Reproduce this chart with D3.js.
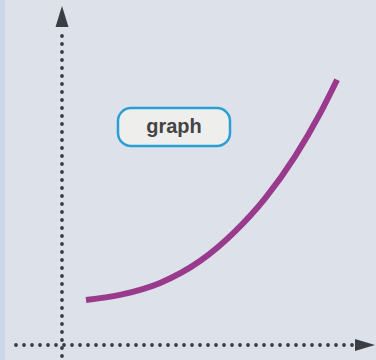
<!DOCTYPE html>
<html>
<head>
<meta charset="utf-8">
<script src="https://cdn.jsdelivr.net/npm/d3@7"></script>
<style>
  body { margin: 0; background: #dde1e9; }
  svg { display: block; }
</style>
</head>
<body>
<div id="chart"></div>
<script>
// curve (abstract units, 0..10 on both axes)
let xValues = [0.8, 1.93, 3.27, 4.6, 5.77, 6.77, 7.77, 8.6, 9.17]
let yValues = [1.5, 1.67, 2.07, 2.8, 3.79, 4.89, 6.29, 7.71, 8.84]
let labelText = 'graph'

let width = 376
let height = 360

let svg = d3
  .select('#chart')
  .append('svg')
  .attr('width', width)
  .attr('height', height)

svg.append('rect')
  .attr('width', width)
  .attr('height', height)
  .attr('fill', '#dde1e9')

// faint blue strip on the left edge
svg.append('rect')
  .attr('width', 5)
  .attr('height', height)
  .attr('fill', '#cbd6e8')

let xScale = d3.scaleLinear().domain([0, 10]).range([62, 362])
let yScale = d3.scaleLinear().domain([0, 10]).range([345, 45])

let axisColor = '#3a3d44'

// dotted y axis
svg.append('line')
  .attr('x1', xScale(0))
  .attr('x2', xScale(0))
  .attr('y1', height + 4)
  .attr('y2', 29)
  .attr('stroke', axisColor)
  .attr('stroke-width', 3.8)
  .attr('stroke-linecap', 'round')
  .attr('stroke-dasharray', '0 8')

svg.append('path')
  .attr('d', `M${xScale(0)},6 L${xScale(0) + 6.5},27 L${xScale(0) - 6.5},27 Z`)
  .attr('fill', axisColor)

// dotted x axis
svg.append('line')
  .attr('x1', 16)
  .attr('x2', 356)
  .attr('y1', yScale(0))
  .attr('y2', yScale(0))
  .attr('stroke', axisColor)
  .attr('stroke-width', 3.8)
  .attr('stroke-linecap', 'round')
  .attr('stroke-dasharray', '0 8')

svg.append('path')
  .attr('d', `M375,${yScale(0)} L355,${yScale(0) - 6} L355,${yScale(0) + 6} Z`)
  .attr('fill', axisColor)

let points = xValues.map((x, i) => [x, yValues[i]])

let line = d3.line()
  .x(d => xScale(d[0]))
  .y(d => yScale(d[1]))
  .curve(d3.curveMonotoneX)

svg.append('path')
  .datum(points)
  .attr('d', line)
  .attr('fill', 'none')
  .attr('stroke', '#9a3a8c')
  .attr('stroke-width', 6)

// label
let label = svg.append('g')
  .attr('transform', 'translate(174,127)')

label.append('rect')
  .attr('x', -56)
  .attr('y', -19)
  .attr('width', 112)
  .attr('height', 38)
  .attr('rx', 13)
  .attr('fill', '#eeefed')
  .attr('stroke', '#2a9fd6')
  .attr('stroke-width', 2.5)

label.append('text')
  .text(labelText)
  .attr('text-anchor', 'middle')
  .attr('dy', 6)
  .attr('font-family', 'Liberation Sans, Arial, sans-serif')
  .attr('font-weight', 'bold')
  .attr('font-size', 20)
  .attr('fill', '#444')
</script>
</body>
</html>
